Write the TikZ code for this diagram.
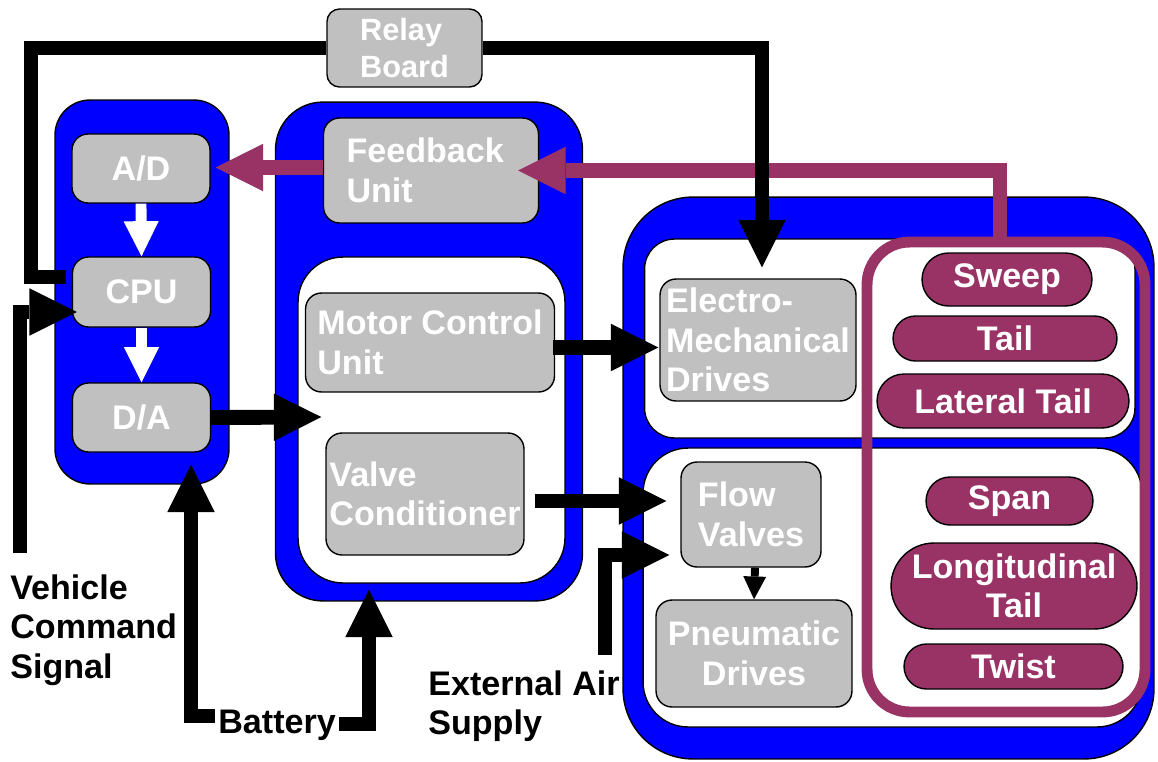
\documentclass[tikz,border=0pt]{standalone}
\usepackage{fontspec}
\setmainfont{Liberation Sans}
\usetikzlibrary{arrows.meta,calc,shapes.misc}
\definecolor{pblue}{RGB}{0,0,255}
\definecolor{pgray}{RGB}{192,192,192}
\definecolor{ppurple}{RGB}{153,51,102}
\newcommand\dgfont{\fontsize{19.4pt}{22.5pt}\selectfont\bfseries}
\newcommand\dgsmall{\fontsize{17.5pt}{21.5pt}\selectfont\bfseries}
\tikzset{
  bluebox/.style={draw=black, line width=0.8pt, fill=pblue, rounded corners=#1, inner sep=0pt},
  whitebox/.style={draw=black, line width=0.8pt, fill=white, rounded corners=#1, inner sep=0pt},
  graybox/.style={draw=black, line width=0.8pt, fill=pgray, rounded corners=0.32cm, inner sep=0pt, text=white, font=\dgfont, align=left},
  pill/.style={rounded rectangle, draw=black, line width=0.8pt, fill=ppurple, text=white, font=\dgfont, align=center, inner sep=0pt},
  pframestyle/.style={draw=ppurple, line width=6.2pt, rounded corners=0.85cm, inner sep=0pt},
  bigarrow/.style={draw=black, line width=8.5pt, -{Triangle[length=27pt,width=27pt,line width=0pt]}},
  thickline/.style={draw=black, line width=8.5pt},
  purparrow/.style={draw=ppurple, line width=8.5pt, -{Triangle[length=27pt,width=27pt,line width=0pt]}},
  whitearrow/.style={draw=white, line width=6.2pt, -{Triangle[length=20pt,width=20pt,line width=0pt]}},
  smallarrow/.style={draw=black, line width=4.5pt, -{Triangle[length=13pt,width=13pt,line width=0pt]}},
  plainlabel/.style={font=\dgfont, text=black, inner sep=0pt, align=left}
}
\begin{document}
\begin{tikzpicture}[x=0.02cm, y=-0.02cm]
\useasboundingbox (0,0) rectangle (1158,761);

% left column
\node[bluebox=0.7cm, minimum width=3.48cm, minimum height=7.68cm] (cpucol) at (142,292) {};
\node[graybox, minimum width=2.76cm, minimum height=1.38cm] (ad) at (141,168.5) {A/D};
\node[graybox, minimum width=2.76cm, minimum height=1.4cm] (cpu) at (141.5,292) {CPU};
\node[graybox, minimum width=2.76cm, minimum height=1.38cm] (da) at (141.5,417.5) {D/A};

% middle column
\node[bluebox=0.95cm, minimum width=6.14cm, minimum height=9.98cm] (ctrl) at (429,351.5) {};
\node[whitebox=0.9cm, minimum width=5.34cm, minimum height=6.52cm] (ctrlin) at (431.5,420) {};
\node[graybox, text width=3.38cm, minimum width=4.3cm, minimum height=2.1cm] (fb) at (431,170.5) {Feedback\\Unit};
\node[graybox, minimum width=4.98cm, minimum height=1.98cm] (mcu) at (430,342.5) {Motor Control\\Unit};
\node[graybox, minimum width=3.96cm, minimum height=2.44cm] (vc) at (425,494) {Valve\\Conditioner};

% actuator block
\node[bluebox=1.4cm, minimum width=10.62cm, minimum height=11.24cm] (act) at (888.5,478) {};
\node[whitebox=0.6cm, minimum width=9.81cm, minimum height=3.98cm] (actup) at (889.75,338.5) {};
\node[whitebox=0.9cm, minimum width=9.98cm, minimum height=5.58cm] (actlo) at (892.5,587.5) {};
\node[graybox, minimum width=3.92cm, minimum height=2.44cm] (emd) at (758,340) {Electro-\\Mechanical\\Drives};
\node[graybox, minimum width=2.8cm, minimum height=2.1cm] (fv) at (751,514.5) {Flow\\Valves};
\node[graybox, align=center, minimum width=3.92cm, minimum height=2.14cm] (pd) at (754,653.5) {Pneumatic\\Drives};

% purple frame and surfaces
\node[pframestyle, minimum width=5.56cm, minimum height=9.4cm] (pframe) at (1006,477) {};
\node[pill, minimum width=3.4cm, minimum height=1.06cm] (sweep) at (1007,279.5) {Sweep};
\node[pill, minimum width=4.48cm, minimum height=0.9cm] (tail) at (1005,338.5) {Tail};
\node[pill, minimum width=5.04cm, minimum height=1.08cm] (lat) at (1003,401) {Lateral Tail};
\node[pill, minimum width=3.34cm, minimum height=0.96cm] (span) at (1009.5,501) {Span};
\node[pill, minimum width=4.92cm, minimum height=1.72cm] (long) at (1014,586) {Longitudinal\\Tail};
\node[pill, minimum width=4.38cm, minimum height=0.9cm] (twist) at (1013.5,666.5) {Twist};

% relay board
\node[graybox, font=\dgsmall, minimum width=3.1cm, minimum height=1.56cm, rounded corners=0.25cm] (relay) at (404.5,48) {Relay\\Board};

% labels
\node[plainlabel, anchor=west] (cmd) at (10,630) {Vehicle\\Command\\Signal};
\node[plainlabel, anchor=west] (air) at (428,706) {External Air\\Supply};
\node[plainlabel, anchor=west] (batt) at (218,725) {Battery};

% feedback (purple)
\draw[purparrow] ($(pframe.north)+(-6,0)$) |- ($(fb.east)+(-21,0)$);
\draw[purparrow] ($(fb.west)+(0,-3)$) -- ($(ad.east)+(5,-1)$);

% relay loop (black)
\coordinate (lc) at (31,48);
\draw[thickline] ($(cpu.west)+(-6,-15)$) -| (lc) -- (relay.west);
\draw[bigarrow] (relay.east) -| ($(emd.north)+(4,-11)$);

% internal white arrows
\draw[whitearrow] (ad.south) -- (cpu.north);
\draw[whitearrow] (cpu.south) -- (da.north);

% command signal
\coordinate (cmdS) at (20,553);
\draw[bigarrow] (cmdS) |- ($(cpu.west)+(5,20)$);

% signal paths
\draw[bigarrow] (da.east) -- ($(ctrlin.west)+(24,-3)$);
\draw[bigarrow] ($(mcu.east)+(-2,5)$) -- ($(emd.west)+(-1,7.5)$);
\draw[bigarrow] ($(vc.east)+(10,7)$) -- ($(fv.west)+(-14,-13.5)$);
\draw[smallarrow] ($(fv.south)+(4,0)$) -- (pd.north);

% external air
\coordinate (airS) at (605,655);
\draw[bigarrow] (airS) |- ($(fv.west)+(-11,40.5)$);

% battery
\draw[bigarrow] ($(batt.west)+(-3,-9)$) -| ($(cpucol.south)+(49,-20)$);
\draw[bigarrow] ($(batt.east)+(3,-1)$) -| ($(ctrl.south)+(-60,-12)$);
\end{tikzpicture}
\end{document}
